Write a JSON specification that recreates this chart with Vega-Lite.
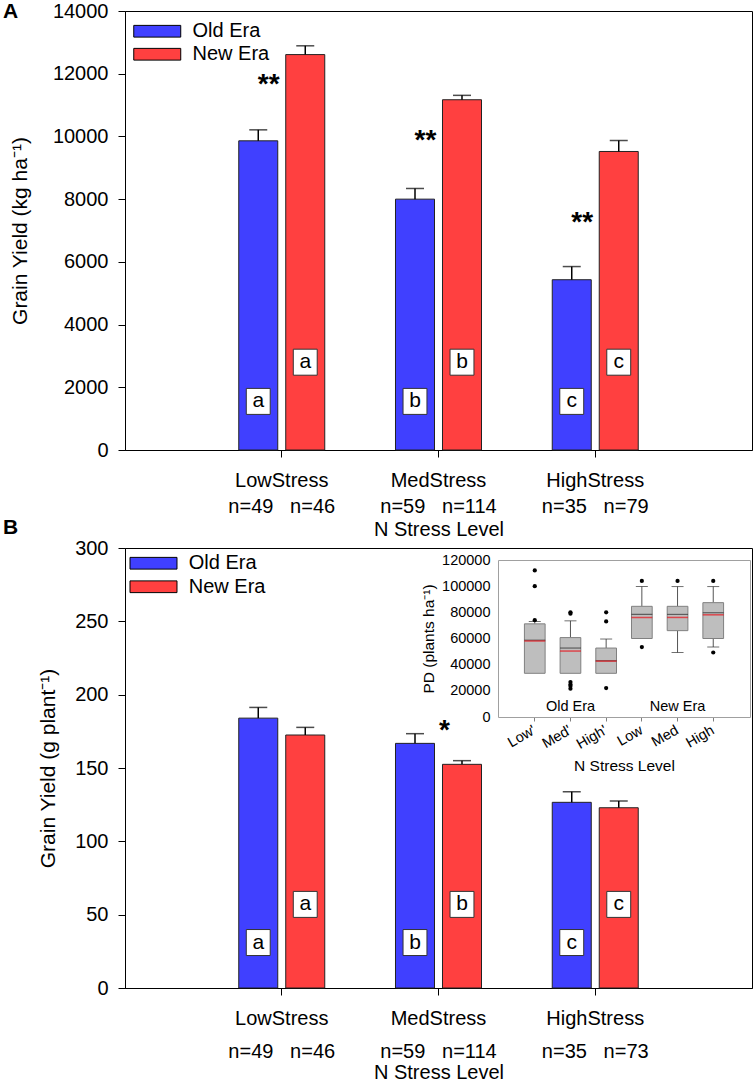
{
  "$schema": "https://vega.github.io/schema/vega-lite/v6.json",
  "padding": {"left": 2, "top": 0, "right": 2, "bottom": 0},
  "config": {
    "font": "Liberation Sans",
    "view": {"stroke": "#000", "strokeWidth": 1},
    "axis": {"domainColor": "#000", "tickColor": "#000", "labelColor": "#000", "titleColor": "#000", "grid": false, "labelFont": "Liberation Sans", "titleFont": "Liberation Sans", "labelFontSize": 20, "titleFontSize": 21, "titleFontWeight": "normal", "tickSize": 7},
    "legend": {"labelFont": "Liberation Sans", "labelFontSize": 20, "labelColor": "#000"},
    "title": {"font": "Liberation Sans", "color": "#000"}
  },
  "datasets": {
    "yieldA": [
      {"Stress": "LowStress", "Era": "Old Era", "mean": 9860, "err": 10210, "letter": "a"},
      {"Stress": "LowStress", "Era": "New Era", "mean": 12610, "err": 12890, "letter": "a"},
      {"Stress": "MedStress", "Era": "Old Era", "mean": 8000, "err": 8340, "letter": "b"},
      {"Stress": "MedStress", "Era": "New Era", "mean": 11170, "err": 11310, "letter": "b"},
      {"Stress": "HighStress", "Era": "Old Era", "mean": 5430, "err": 5850, "letter": "c"},
      {"Stress": "HighStress", "Era": "New Era", "mean": 9520, "err": 9870, "letter": "c"}
    ],
    "sigA": [
      {"Stress": "LowStress", "sig": "**", "y": 11900},
      {"Stress": "MedStress", "sig": "**", "y": 10100},
      {"Stress": "HighStress", "sig": "**", "y": 7480}
    ],
    "yieldB": [
      {"Stress": "LowStress", "Era": "Old Era", "mean": 184, "err": 191.3, "letter": "a"},
      {"Stress": "LowStress", "Era": "New Era", "mean": 172.5, "err": 177.7, "letter": "a"},
      {"Stress": "MedStress", "Era": "Old Era", "mean": 166.8, "err": 173.4, "letter": "b"},
      {"Stress": "MedStress", "Era": "New Era", "mean": 152.5, "err": 155, "letter": "b"},
      {"Stress": "HighStress", "Era": "Old Era", "mean": 126.6, "err": 133.8, "letter": "c"},
      {"Stress": "HighStress", "Era": "New Era", "mean": 122.9, "err": 127.5, "letter": "c"}
    ],
    "sigB": [
      {"Stress": "MedStress", "sig": "*", "y": 181}
    ],
    "pdBox": [
      {"cat": "Low'", "q1": 33400, "q3": 71200, "med": 58700, "mean": 58100, "lo": null, "hi": 73000},
      {"cat": "Med'", "q1": 33400, "q3": 60700, "med": 52700, "mean": 50400, "lo": null, "hi": 73500},
      {"cat": "High'", "q1": 33400, "q3": 52700, "med": 43000, "mean": 42700, "lo": null, "hi": 59600},
      {"cat": "Low", "q1": 60000, "q3": 84600, "med": 78400, "mean": 76100, "lo": 60000, "hi": 99700},
      {"cat": "Med", "q1": 66000, "q3": 84600, "med": 78400, "mean": 76100, "lo": 49300, "hi": 99700},
      {"cat": "High", "q1": 60000, "q3": 87400, "med": 79700, "mean": 78100, "lo": 53500, "hi": 99700}
    ],
    "pdOut": [
      {"cat": "Low'", "v": 112000}, {"cat": "Low'", "v": 100000}, {"cat": "Low'", "v": 74000},
      {"cat": "Med'", "v": 80000}, {"cat": "Med'", "v": 79000}, {"cat": "Med'", "v": 26700}, {"cat": "Med'", "v": 24900}, {"cat": "Med'", "v": 23600}, {"cat": "Med'", "v": 21600},
      {"cat": "High'", "v": 80000}, {"cat": "High'", "v": 73000}, {"cat": "High'", "v": 22100},
      {"cat": "Low", "v": 104000}, {"cat": "Low", "v": 53500},
      {"cat": "Med", "v": 104000},
      {"cat": "High", "v": 104000}, {"cat": "High", "v": 49300}
    ],
    "pdLab": [
      {"cat": "Med'", "label": "Old Era"},
      {"cat": "Med", "label": "New Era"}
    ]
  },
  "bounds": "flush",
  "spacing": 98,
  "resolve": {"scale": {"color": "independent"}, "legend": {"color": "independent"}},
  "vconcat": [
    {
      "width": 627,
      "height": 439,
      "title": {"text": "A", "anchor": "start", "frame": "group", "dx": -122, "offset": 0, "dy": 21, "fontSize": 21, "fontWeight": "bold"},
      "encoding": {
        "x": {"field": "Stress", "type": "nominal", "sort": ["LowStress", "MedStress", "HighStress"],
              "scale": {"paddingInner": 0.4513, "paddingOuter": 0.7257},
              "axis": {"title": "N Stress Level", "labelAngle": 0, "labelExpr": "datum.value == 'LowStress' ? ['LowStress', 'n=49\u00a0\u00a0\u00a0n=46'] : datum.value == 'MedStress' ? ['MedStress', 'n=59\u00a0\u00a0\u00a0n=114'] : ['HighStress', 'n=35\u00a0\u00a0\u00a0n=79']", "labelLineHeight": 26, "labelPadding": 13, "titlePadding": 3, "titleFontSize": 20, "labelOverlap": false, "labelBound": false}}
      },
      "layer": [
        {
          "data": {"name": "yieldA"},
          "mark": {"type": "bar", "stroke": "#222", "strokeWidth": 1},
          "encoding": {
            "xOffset": {"field": "Era", "type": "nominal", "sort": ["Old Era", "New Era"], "scale": {"paddingInner": 0.17, "paddingOuter": 0}},
            "y": {"field": "mean", "type": "quantitative", "title": "Grain Yield (kg ha⁻¹)", "scale": {"domain": [0, 14000], "nice": false},
                  "axis": {"values": [0, 2000, 4000, 6000, 8000, 10000, 12000, 14000], "format": "d", "labelPadding": 10, "titlePadding": 22}},
            "color": {"field": "Era", "type": "nominal", "sort": ["Old Era", "New Era"],
                      "scale": {"domain": ["Old Era", "New Era"], "range": ["#4040FF", "#FF4040"]},
                      "legend": {"title": null, "orient": "none", "legendX": 19.75, "legendY": 7.75, "padding": 0, "symbolType": "M-2,-0.5H2V0.5H-2Z", "symbolSize": 552, "symbolStrokeColor": "#000", "symbolStrokeWidth": 1, "symbolOpacity": 1, "labelOffset": 22.75, "rowPadding": -1}}
          }
        },
        {
          "data": {"name": "yieldA"},
          "mark": {"type": "rule", "strokeWidth": 1.5, "color": "#000"},
          "encoding": {
            "xOffset": {"field": "Era", "type": "nominal", "sort": ["Old Era", "New Era"]},
            "y": {"field": "mean", "type": "quantitative", "title": "Grain Yield (kg ha⁻¹)"},
            "y2": {"field": "err"}
          }
        },
        {
          "data": {"name": "yieldA"},
          "mark": {"type": "tick", "orient": "horizontal", "size": 18, "thickness": 1.5, "color": "#000"},
          "encoding": {
            "xOffset": {"field": "Era", "type": "nominal", "sort": ["Old Era", "New Era"]},
            "y": {"field": "err", "type": "quantitative", "title": "Grain Yield (kg ha⁻¹)"}
          }
        },
        {
          "data": {"name": "yieldA"},
          "transform": [{"filter": "datum.Era == 'Old Era'"}],
          "layer": [
            {"mark": {"type": "point", "shape": "M-0.92,-1H0.92V1H-0.92Z", "size": 676, "filled": true, "fill": "#fff", "stroke": "#333", "strokeWidth": 1, "opacity": 1}},
            {"mark": {"type": "text", "fontSize": 21, "color": "#000", "baseline": "middle", "dy": 0}, "encoding": {"text": {"field": "letter"}}}
          ],
          "encoding": {
            "xOffset": {"field": "Era", "type": "nominal", "sort": ["Old Era", "New Era"]},
            "y": {"datum": 1550, "type": "quantitative", "title": "Grain Yield (kg ha⁻¹)"}
          }
        },
        {
          "data": {"name": "yieldA"},
          "transform": [{"filter": "datum.Era == 'New Era'"}],
          "layer": [
            {"mark": {"type": "point", "shape": "M-0.92,-1H0.92V1H-0.92Z", "size": 676, "filled": true, "fill": "#fff", "stroke": "#333", "strokeWidth": 1, "opacity": 1}},
            {"mark": {"type": "text", "fontSize": 21, "color": "#000", "baseline": "middle", "dy": 0}, "encoding": {"text": {"field": "letter"}}}
          ],
          "encoding": {
            "xOffset": {"field": "Era", "type": "nominal", "sort": ["Old Era", "New Era"]},
            "y": {"datum": 2800, "type": "quantitative", "title": "Grain Yield (kg ha⁻¹)"}
          }
        },
        {
          "data": {"name": "sigA"},
          "mark": {"type": "text", "fontSize": 28, "fontWeight": "bold", "color": "#000", "baseline": "alphabetic", "dx": -13, "dy": 16},
          "encoding": {
            "y": {"field": "y", "type": "quantitative", "title": "Grain Yield (kg ha⁻¹)"},
            "text": {"field": "sig"}
          }
        }
      ]
    },
    {
      "width": 627,
      "height": 440,
      "title": {"text": "B", "anchor": "start", "frame": "group", "dx": -122, "offset": 0, "dy": 0, "fontSize": 21, "fontWeight": "bold"},
      "resolve": {"scale": {"x": "independent", "y": "independent"}},
      "layer": [
        {
          "encoding": {
            "x": {"field": "Stress", "type": "nominal", "sort": ["LowStress", "MedStress", "HighStress"],
                  "scale": {"paddingInner": 0.4513, "paddingOuter": 0.7257},
                  "axis": {"title": "N Stress Level", "labelAngle": 0, "labelExpr": "datum.value == 'LowStress' ? ['LowStress', 'n=49\u00a0\u00a0\u00a0n=46'] : datum.value == 'MedStress' ? ['MedStress', 'n=59\u00a0\u00a0\u00a0n=114'] : ['HighStress', 'n=35\u00a0\u00a0\u00a0n=73']", "labelLineHeight": 33, "labelPadding": 13, "titlePadding": 1, "titleFontSize": 20, "labelOverlap": false, "labelBound": false}}
          },
          "layer": [
            {
              "data": {"name": "yieldB"},
              "mark": {"type": "bar", "stroke": "#222", "strokeWidth": 1},
              "encoding": {
                "xOffset": {"field": "Era", "type": "nominal", "sort": ["Old Era", "New Era"], "scale": {"paddingInner": 0.17, "paddingOuter": 0}},
                "y": {"field": "mean", "type": "quantitative", "title": "Grain Yield (g plant⁻¹)", "scale": {"domain": [0, 300], "nice": false},
                      "axis": {"values": [0, 50, 100, 150, 200, 250, 300], "format": "d", "labelPadding": 10, "titlePadding": 16}},
                "color": {"field": "Era", "type": "nominal", "sort": ["Old Era", "New Era"],
                          "scale": {"domain": ["Old Era", "New Era"], "range": ["#4040FF", "#FF4040"]},
                          "legend": {"title": null, "orient": "none", "legendX": 16, "legendY": 2.75, "padding": 0, "symbolType": "M-2,-0.5H2V0.5H-2Z", "symbolSize": 552, "symbolStrokeColor": "#000", "symbolStrokeWidth": 1, "symbolOpacity": 1, "labelOffset": 22.75, "rowPadding": 0.5}}
              }
            },
            {
              "data": {"name": "yieldB"},
              "mark": {"type": "rule", "strokeWidth": 1.5, "color": "#000"},
              "encoding": {
                "xOffset": {"field": "Era", "type": "nominal", "sort": ["Old Era", "New Era"]},
                "y": {"field": "mean", "type": "quantitative", "title": "Grain Yield (g plant⁻¹)"},
                "y2": {"field": "err"}
              }
            },
            {
              "data": {"name": "yieldB"},
              "mark": {"type": "tick", "orient": "horizontal", "size": 18, "thickness": 1.5, "color": "#000"},
              "encoding": {
                "xOffset": {"field": "Era", "type": "nominal", "sort": ["Old Era", "New Era"]},
                "y": {"field": "err", "type": "quantitative", "title": "Grain Yield (g plant⁻¹)"}
              }
            },
            {
              "data": {"name": "yieldB"},
              "transform": [{"filter": "datum.Era == 'Old Era'"}],
              "layer": [
                {"mark": {"type": "point", "shape": "M-0.92,-1H0.92V1H-0.92Z", "size": 676, "filled": true, "fill": "#fff", "stroke": "#333", "strokeWidth": 1, "opacity": 1}},
                {"mark": {"type": "text", "fontSize": 21, "color": "#000", "baseline": "middle", "dy": 0}, "encoding": {"text": {"field": "letter"}}}
              ],
              "encoding": {
                "xOffset": {"field": "Era", "type": "nominal", "sort": ["Old Era", "New Era"]},
                "y": {"datum": 31, "type": "quantitative", "title": "Grain Yield (g plant⁻¹)"}
              }
            },
            {
              "data": {"name": "yieldB"},
              "transform": [{"filter": "datum.Era == 'New Era'"}],
              "layer": [
                {"mark": {"type": "point", "shape": "M-0.92,-1H0.92V1H-0.92Z", "size": 676, "filled": true, "fill": "#fff", "stroke": "#333", "strokeWidth": 1, "opacity": 1}},
                {"mark": {"type": "text", "fontSize": 21, "color": "#000", "baseline": "middle", "dy": 0}, "encoding": {"text": {"field": "letter"}}}
              ],
              "encoding": {
                "xOffset": {"field": "Era", "type": "nominal", "sort": ["Old Era", "New Era"]},
                "y": {"datum": 57, "type": "quantitative", "title": "Grain Yield (g plant⁻¹)"}
              }
            },
            {
              "data": {"name": "sigB"},
              "mark": {"type": "text", "fontSize": 28, "fontWeight": "bold", "color": "#000", "baseline": "alphabetic", "dx": 6, "dy": 16},
              "encoding": {
                "y": {"field": "y", "type": "quantitative", "title": "Grain Yield (g plant⁻¹)"},
                "text": {"field": "sig"}
              }
            }
          ]
        },
        {
          "resolve": {"axis": {"x": "independent", "y": "independent"}},
          "layer": [
            {
              "encoding": {
                "x": {"field": "cat", "type": "nominal", "sort": ["Low'", "Med'", "High'", "Low", "Med", "High"],
                      "scale": {"range": [373, 625], "paddingInner": 0.42, "paddingOuter": 0.74},
                      "axis": {"orient": "bottom", "offset": -271, "domainColor": "#A0A0A0", "tickColor": "#808080", "tickSize": 4, "labelAngle": -30, "labelAlign": "right", "labelBaseline": "middle", "labelFontSize": 14.5, "labelPadding": 8, "title": "N Stress Level", "titleFontSize": 15.5, "titlePadding": 8}}
              },
              "layer": [
                {
                  "data": {"name": "pdBox"},
                  "transform": [{"filter": "datum.lo != null"}],
                  "mark": {"type": "rule", "color": "#555", "strokeWidth": 1},
                  "encoding": {
                    "y": {"field": "lo", "type": "quantitative", "title": "PD (plants ha⁻¹)", "scale": {"domain": [0, 120000], "range": [169, 12], "nice": false},
                          "axis": {"orient": "left", "offset": -373, "values": [0, 20000, 40000, 60000, 80000, 100000, 120000], "format": "d", "domainColor": "#A0A0A0", "ticks": false, "labelFontSize": 14.5, "labelPadding": 8, "titleFontSize": 15.5, "titlePadding": 5}},
                    "y2": {"field": "q1"}
                  }
                },
                {
                  "data": {"name": "pdBox"},
                  "mark": {"type": "rule", "color": "#555", "strokeWidth": 1},
                  "encoding": {
                    "y": {"field": "q3", "type": "quantitative", "title": "PD (plants ha⁻¹)"},
                    "y2": {"field": "hi"}
                  }
                },
                {
                  "data": {"name": "pdBox"},
                  "transform": [{"filter": "datum.lo != null"}],
                  "mark": {"type": "tick", "orient": "horizontal", "size": 12, "thickness": 1, "color": "#333"},
                  "encoding": {"y": {"field": "lo", "type": "quantitative", "title": "PD (plants ha⁻¹)"}}
                },
                {
                  "data": {"name": "pdBox"},
                  "mark": {"type": "tick", "orient": "horizontal", "size": 12, "thickness": 1, "color": "#333"},
                  "encoding": {"y": {"field": "hi", "type": "quantitative", "title": "PD (plants ha⁻¹)"}}
                },
                {
                  "data": {"name": "pdBox"},
                  "mark": {"type": "bar", "fill": "#BEBEBE", "stroke": "#808080", "strokeWidth": 1},
                  "encoding": {
                    "y": {"field": "q1", "type": "quantitative", "title": "PD (plants ha⁻¹)"},
                    "y2": {"field": "q3"}
                  }
                },
                {
                  "data": {"name": "pdBox"},
                  "mark": {"type": "tick", "orient": "horizontal", "size": 21, "thickness": 1.2, "color": "#333"},
                  "encoding": {"y": {"field": "med", "type": "quantitative", "title": "PD (plants ha⁻¹)"}}
                },
                {
                  "data": {"name": "pdBox"},
                  "mark": {"type": "tick", "orient": "horizontal", "size": 21, "thickness": 1.5, "color": "#E8141C"},
                  "encoding": {"y": {"field": "mean", "type": "quantitative", "title": "PD (plants ha⁻¹)"}}
                },
                {
                  "data": {"name": "pdLab"},
                  "mark": {"type": "text", "fontSize": 14.5, "color": "#000", "baseline": "middle"},
                  "encoding": {
                    "y": {"datum": 8000, "type": "quantitative", "title": "PD (plants ha⁻¹)"},
                    "text": {"field": "label"}
                  }
                }
              ]
            },
            {
              "data": {"name": "pdOut"},
              "mark": {"type": "point", "filled": true, "color": "#000", "size": 18, "opacity": 1},
              "encoding": {
                "x": {"field": "cat", "type": "nominal", "sort": ["Low'", "Med'", "High'", "Low", "Med", "High"],
                      "axis": {"orient": "top", "offset": -12, "domainColor": "#A0A0A0", "labels": false, "ticks": false, "title": null}},
                "y": {"field": "v", "type": "quantitative",
                      "axis": {"orient": "right", "offset": -2, "domainColor": "#A0A0A0", "labels": false, "ticks": false, "title": null}}
              }
            }
          ]
        }
      ]
    }
  ]
}
